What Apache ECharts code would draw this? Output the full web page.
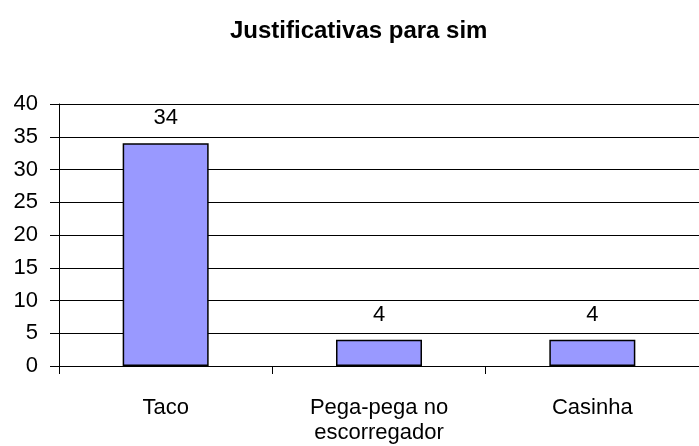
<!DOCTYPE html>
<html>
<head>
<meta charset="utf-8">
<script src="https://cdn.jsdelivr.net/npm/echarts@6/dist/echarts.min.js"></script>
<style>
  html, body { margin: 0; padding: 0; background: #fff; }
  #chart { width: 699px; height: 446px; }
</style>
</head>
<body>
<div id="chart"></div>
<script>
var categories = ['Taco', 'Pega-pega no\nescorregador', 'Casinha'];
var values = [34, 4, 4];
var yTicks = { min: 0, max: 40, interval: 5 };

var chart = echarts.init(document.getElementById('chart'));
chart.setOption({
    animation: false,
    backgroundColor: '#ffffff',
    title: {
        text: 'Justificativas para sim',
        left: 225,
        top: 14,
        textStyle: {
            fontFamily: 'Liberation Sans, Arial',
            fontSize: 24,
            fontWeight: 'bold',
            color: '#000'
        }
    },
    grid: {
        left: 59,
        top: 104,
        width: 649,
        height: 262
    },
    xAxis: {
        type: 'category',
        data: categories,
        axisLine: { lineStyle: { color: '#000', width: 1 } },
        axisTick: { show: true, length: 8, lineStyle: { color: '#000' } },
        axisLabel: {
            margin: 29,
            fontFamily: 'Liberation Sans, Arial',
            fontSize: 22,
            lineHeight: 25,
            color: '#000',
            interval: 0
        }
    },
    yAxis: {
        type: 'value',
        min: yTicks.min,
        max: yTicks.max,
        interval: yTicks.interval,
        axisLine: { show: true, lineStyle: { color: '#000', width: 1 } },
        axisTick: { show: true, length: 9, lineStyle: { color: '#000' } },
        splitLine: { show: true, lineStyle: { color: '#000', width: 1 } },
        axisLabel: {
            margin: 21,
            fontFamily: 'Liberation Sans, Arial',
            fontSize: 22,
            color: '#000'
        }
    },
    series: [{
        type: 'bar',
        data: values,
        barWidth: 86,
        itemStyle: {
            color: '#9999ff',
            borderColor: '#000',
            borderWidth: 1.5
        },
        label: {
            show: true,
            position: 'top',
            distance: 14,
            fontFamily: 'Liberation Sans, Arial',
            fontSize: 22,
            color: '#000'
        }
    }]
});
</script>
</body>
</html>
